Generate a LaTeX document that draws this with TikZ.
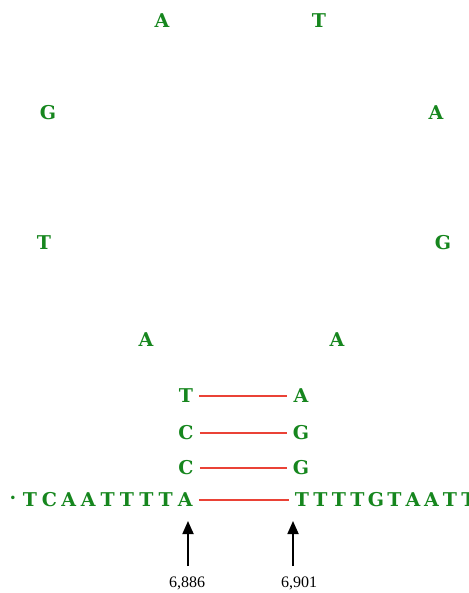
\documentclass[tikz,border=0pt]{standalone}
\usepackage{fontspec}
\setmainfont{Liberation Serif}
\newfontfamily\dnafont{DejaVu Serif}
\usetikzlibrary{arrows.meta}
\definecolor{base}{RGB}{22,134,30}
\definecolor{bond}{RGB}{234,66,54}
\begin{document}
\begin{tikzpicture}[x=1pt,y=-1pt,
  nt/.style={font=\dnafont\bfseries\fontsize{19}{19}\selectfont, text=base,
             inner xsep=6pt, inner ysep=0pt},
  hbond/.style={draw=bond, line width=1.7pt},
  poslabel/.style={font=\fontsize{16}{16}\selectfont, inner sep=0pt},
  marker/.style={line width=1.8pt, -{Triangle[width=11pt,length=13pt]}}]
\useasboundingbox (0,0) rectangle (468,593);

% hairpin loop
\node[nt] (l1)  at (162,21)  {A};
\node[nt] (l2)  at (319,21)  {T};
\node[nt] (l3)  at (48,113)  {G};
\node[nt] (l4)  at (436,113) {A};
\node[nt] (l5)  at (44,243)  {T};
\node[nt] (l6)  at (443,243) {G};
\node[nt] (l7)  at (146,340) {A};
\node[nt] (l8)  at (337,340) {A};

% stem
\node[nt] (s1l) at (186,396) {T};
\node[nt] (s1r) at (301,396) {A};
\node[nt] (s2l) at (186,433) {C};
\node[nt] (s2r) at (301,433) {G};
\node[nt] (s3l) at (186,468) {C};
\node[nt] (s3r) at (301,468) {G};

% flanking sequence
\node[nt, inner xsep=0pt] (dot) at (13,500) {·};
\foreach \ch [count=\i] in {T,C,A,A,T,T,T,T,A}
  \node[nt] (a\i) at ({30+19.4*(\i-1)},500) {\ch};
\begin{scope}
  \clip (0,0) rectangle (468,593);
  \foreach \ch [count=\i] in {T,T,T,T,G,T,A,A,T,T}
    \node[nt] (b\i) at ({302+18.5*(\i-1)},500) {\ch};
\end{scope}

% base pairs
\draw[hbond] (s1l.east) -- (s1r.west);
\draw[hbond] (s2l.east) -- (s2r.west);
\draw[hbond] (s3l.east) -- (s3r.west);
\draw[hbond] (a9.east) -- (b1.west);

% positions
\node[poslabel] (p1) at (187,583) {6,886};
\node[poslabel] (p2) at (299,583) {6,901};
\coordinate (t1) at (188,566);
\coordinate (h1) at (188,521);
\coordinate (t2) at (293,566);
\coordinate (h2) at (293,521);
\draw[marker] (t1) -- (h1);
\draw[marker] (t2) -- (h2);
\end{tikzpicture}
\end{document}
